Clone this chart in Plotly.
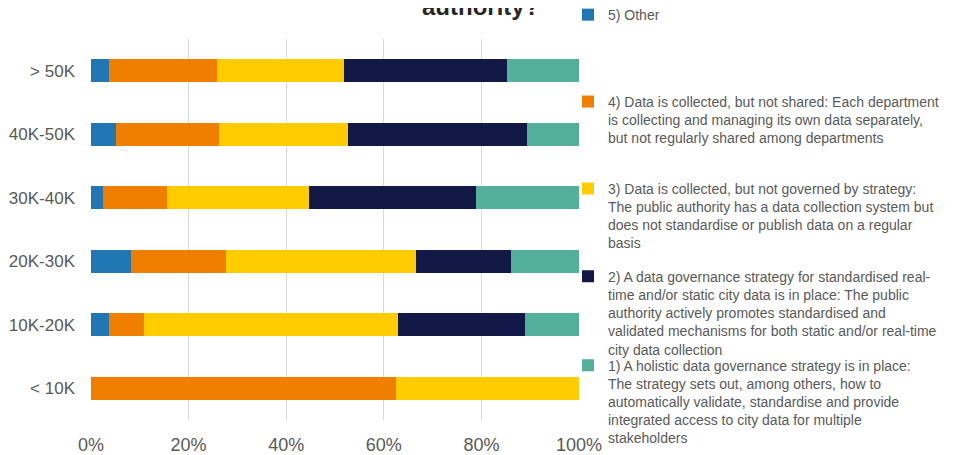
import plotly.graph_objects as go

categories = ["< 10K", "10K-20K", "20K-30K", "30K-40K", "40K-50K", "> 50K"]

other = [0.0, 3.6, 8.1, 2.4, 5.1, 3.6]
not_shared = [62.5, 7.3, 19.5, 13.2, 21.1, 22.2]
not_governed = [37.5, 52.0, 39.0, 29.1, 26.4, 26.0]
strategy_realtime = [0.0, 26.0, 19.5, 34.2, 36.8, 33.4]
holistic = [0.0, 11.1, 13.9, 21.1, 10.6, 14.8]

series_names = [
    "5) Other",
    "4) Data is collected, but not shared: Each department<br>is collecting and managing its own data separately,<br>but not regularly shared among departments",
    "3) Data is collected, but not governed by strategy:<br>The public authority has a data collection system but<br>does not standardise or publish data on a regular<br>basis",
    "2) A data governance strategy for standardised real-<br>time and/or static city data is in place: The public<br>authority actively promotes standardised and<br>validated mechanisms for both static and/or real-time<br>city data collection",
    "1) A holistic data governance strategy is in place:<br>The strategy sets out, among others, how to<br>automatically validate, standardise and provide<br>integrated access to city data for multiple<br>stakeholders",
]
series_values = [other, not_shared, not_governed, strategy_realtime, holistic]
colors = ["#2176B4", "#F07F00", "#FFCC00", "#121947", "#54B09A"]

# The page body adds an 8px offset, so figure coords = screen coords - 8
OFF = 8
W, H = 960 - OFF, 455 - OFF
ML, MT = 91 - OFF, 38.5 - OFF
MR = W - (579 - OFF)
MB = H - (420 - OFF)
PW = W - ML - MR
PH = H - MT - MB
legend_first_line_px = [14, 101, 188, 276, 365]
LEG_OFFSET = 15.5

fig = go.Figure()
legend_layouts = {}
for i, (name, vals, col) in enumerate(zip(series_names, series_values, colors)):
    lid = "legend" if i == 0 else f"legend{i + 1}"
    fig.add_trace(go.Bar(
        y=categories, x=vals, name=name, orientation="h",
        marker=dict(color=col, line=dict(width=0)), legend=lid,
    ))
    top_px = legend_first_line_px[i] - OFF - LEG_OFFSET
    legend_layouts[lid] = dict(
        xref="paper", yref="paper",
        x=(609 - OFF - 41 - ML) / PW, xanchor="left",
        y=1 + (MT - top_px) / PH, yanchor="top",
        valign="top", font=dict(size=14, color="#595959"),
        bgcolor="rgba(0,0,0,0)",
    )

fig.update_layout(
    width=W, height=H,
    barmode="stack", bargap=0.645,
    paper_bgcolor="white", plot_bgcolor="white",
    margin=dict(l=ML, r=MR, t=MT, b=MB, autoexpand=False),
    font=dict(family="Liberation Sans, Arial, sans-serif", color="#595959"),
    showlegend=True,
    **legend_layouts,
)
fig.add_annotation(
    text="<b>authority?</b>", xref="paper", yref="paper",
    x=(480 - OFF - ML) / PW, xanchor="center",
    y=1 + (MT + 2) / PH, yanchor="middle", showarrow=False,
    font=dict(size=24, color="#262626"),
)
fig.update_xaxes(range=[0, 100], tickvals=[0, 20, 40, 60, 80, 100],
                 ticktext=["0%", "20%", "40%", "60%", "80%", "100%"],
                 showgrid=True, gridcolor="#D9D9D9", gridwidth=1, zeroline=False,
                 showline=False, ticks="", ticklabelstandoff=12, automargin=False,
                 tickfont=dict(size=18, color="#595959"), fixedrange=True)
fig.update_yaxes(categoryorder="array", categoryarray=categories, showgrid=False,
                 showline=False, ticks="", ticklabelstandoff=15, automargin=False,
                 tickfont=dict(size=17, color="#595959"), fixedrange=True)

fig.write_html("out.html")
